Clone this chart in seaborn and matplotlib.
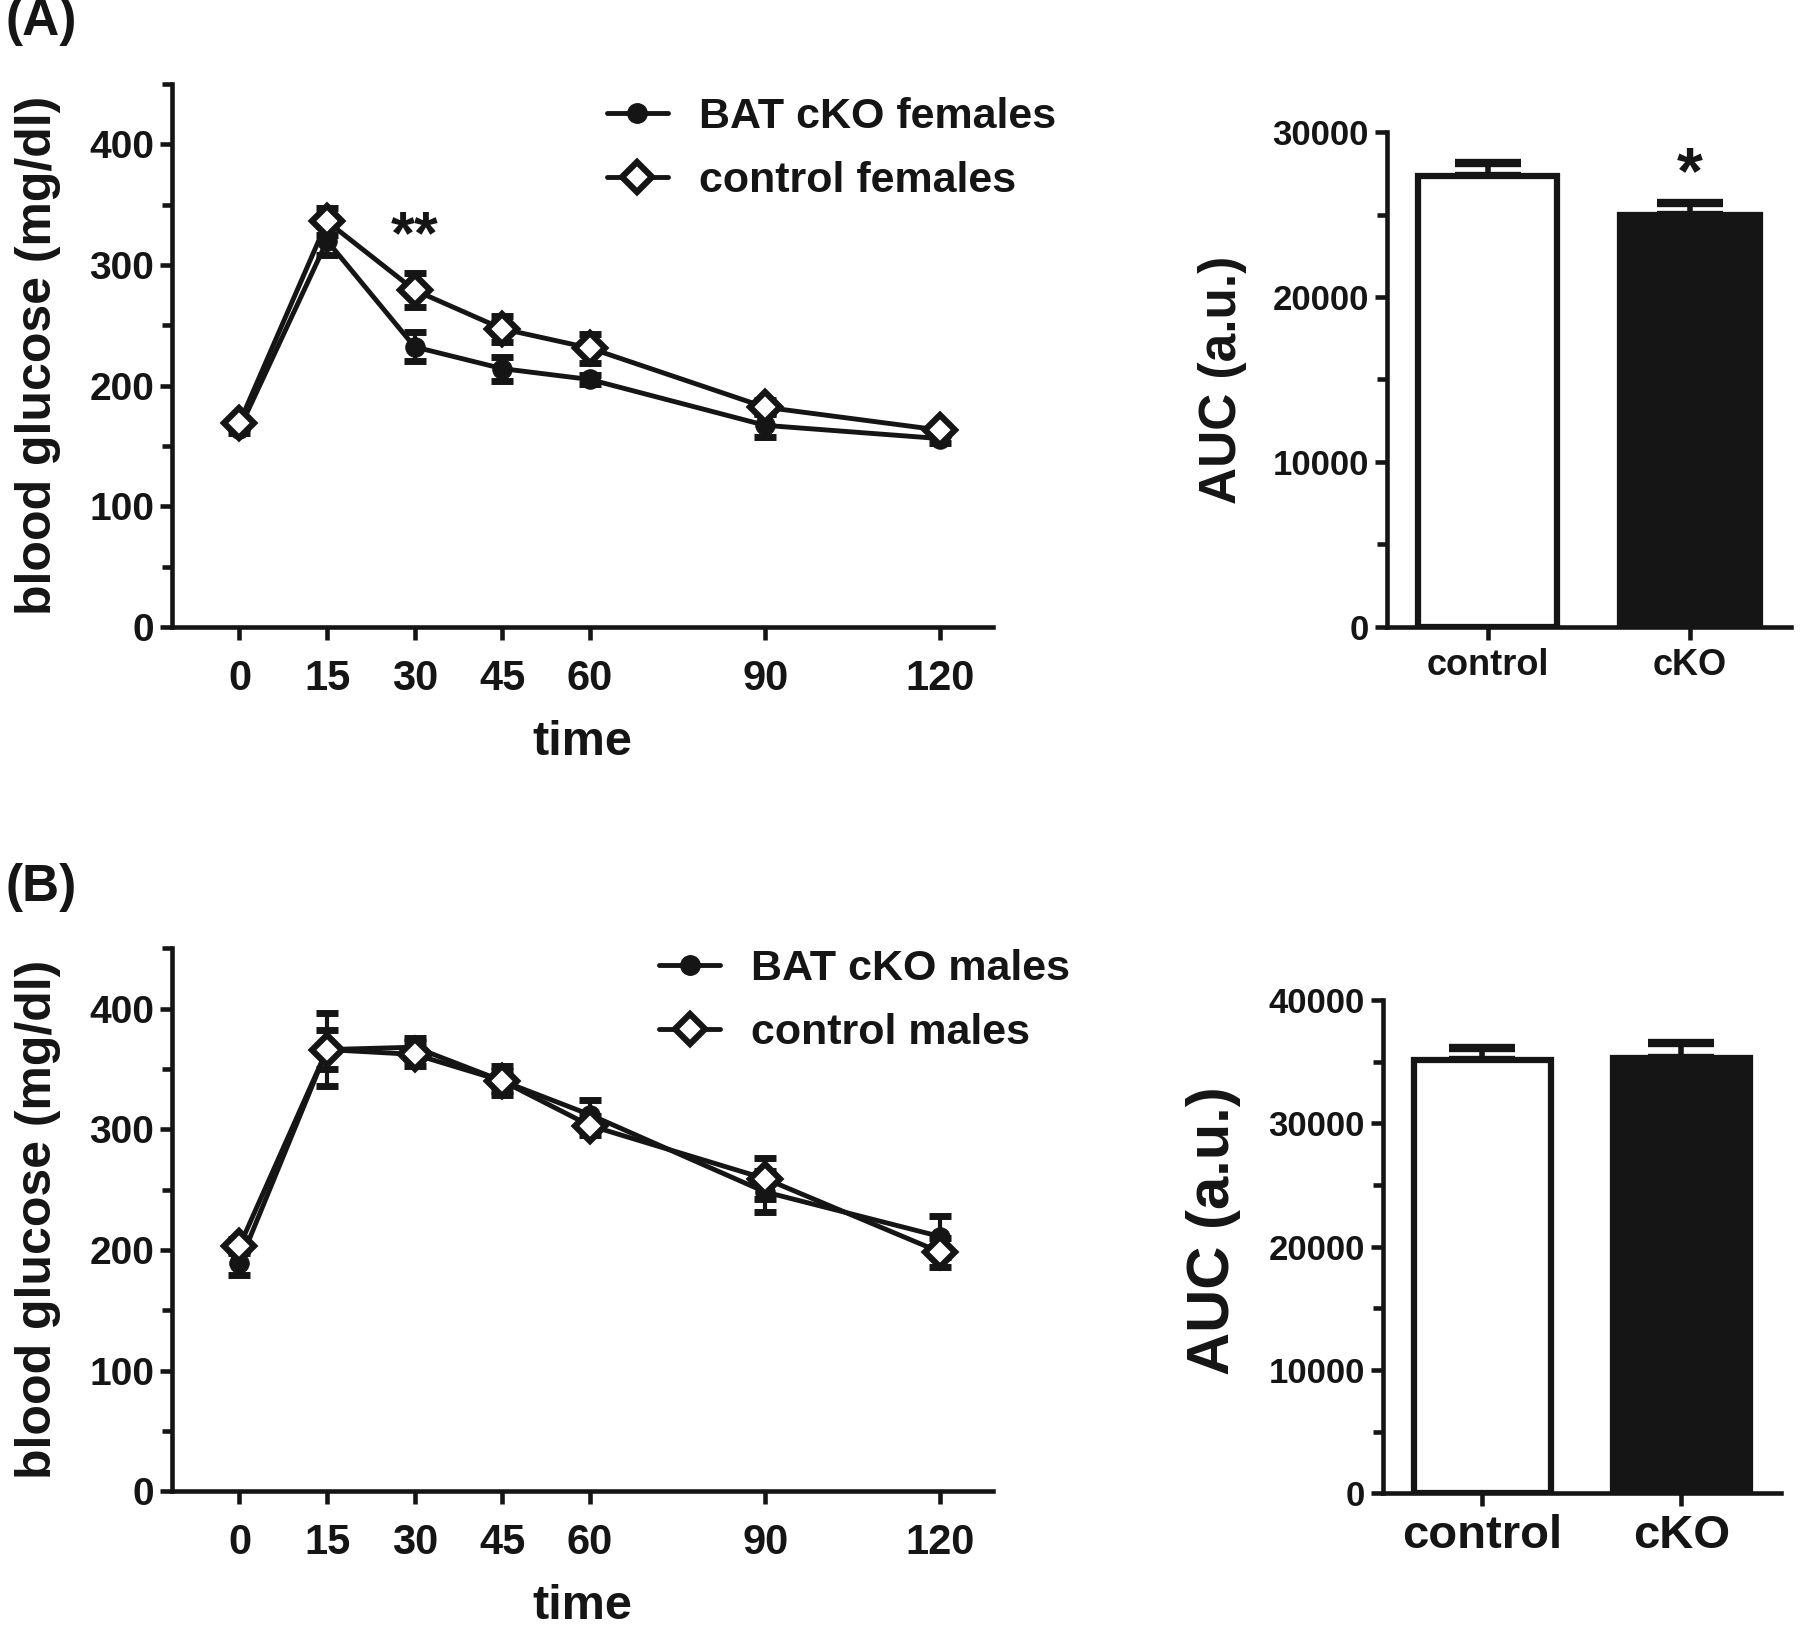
import matplotlib
matplotlib.use('Agg')
import matplotlib.pyplot as plt
import seaborn as sns
import numpy as np
from matplotlib.ticker import MultipleLocator
from matplotlib.lines import Line2D

# glucose tolerance data (mg/dl)
time = [0, 15, 30, 45, 60, 90, 120]

ko_f = [164, 320, 232, 214, 205, 167, 156]
ko_f_err = [3, 12, 12, 10, 4, 10, 4]
ctrl_f = [169, 336, 279, 247, 231, 182, 163]
ctrl_f_err = [4, 11, 14, 11, 12, 6, 4]

ko_m = [189, 366, 368, 340, 312, 248, 211]
ko_m_err = [10, 30, 8, 12, 12, 17, 17]
ctrl_m = [203, 366, 362, 340, 303, 259, 198]
ctrl_m_err = [6, 16, 10, 8, 8, 17, 12]

# area under curve
groups = ['control', 'cKO']
auc_f = [27350, 24950]
auc_f_err = [800, 780]
auc_m = [35120, 35270]
auc_m_err = [1020, 1270]

sns.set_theme(style='ticks')
plt.rcParams['font.family'] = ['Liberation Sans', 'DejaVu Sans']
plt.rcParams['font.weight'] = 'bold'
plt.rcParams['axes.labelweight'] = 'bold'

K = '#151515'
plt.rcParams['text.color'] = K
plt.rcParams['axes.labelcolor'] = K
plt.rcParams['xtick.labelcolor'] = K
plt.rcParams['ytick.labelcolor'] = K

fig = plt.figure(figsize=(18, 16.29), dpi=100)


def style_axes(ax, tick_fs):
    for s in ['top', 'right']:
        ax.spines[s].set_visible(False)
    for s in ['left', 'bottom']:
        ax.spines[s].set_linewidth(3.3)
        ax.spines[s].set_color(K)
    ax.tick_params(which='major', direction='out', length=9, width=3.3, color=K, labelsize=tick_fs, pad=4)
    ax.tick_params(which='minor', direction='out', length=7, width=3.3, color=K)
    for lab in ax.get_xticklabels() + ax.get_yticklabels():
        lab.set_fontweight('bold')


def gtt_panel(rect, ko, ko_err, ctrl, ctrl_err, labels, leg_anchor):
    ax = fig.add_axes(rect)
    ax.errorbar(time, ko, yerr=ko_err, fmt='none', ecolor=K, elinewidth=3, capsize=8, capthick=5, zorder=2)
    ax.errorbar(time, ctrl, yerr=ctrl_err, fmt='none', ecolor=K, elinewidth=3, capsize=8, capthick=5, zorder=2)
    sns.lineplot(x=time, y=ko, ax=ax, color=K, lw=3.5, marker='o', markersize=14,
                 markerfacecolor=K, markeredgecolor=K, zorder=3)
    sns.lineplot(x=time, y=ctrl, ax=ax, color=K, lw=3.5, marker='D', markersize=15,
                 markerfacecolor='white', markeredgecolor=K, markeredgewidth=4.5, zorder=4)
    ax.set_xlim(-11.5, 129)
    ax.set_ylim(0, 450)
    ax.set_xticks(time)
    ax.set_yticks([0, 100, 200, 300, 400])
    ax.yaxis.set_minor_locator(MultipleLocator(50))
    ax.set_xlabel('time', fontsize=35, fontweight='bold', labelpad=15)
    ax.set_ylabel('blood glucose (mg/dl)', fontsize=36, fontweight='bold', labelpad=20)
    style_axes(ax, 28)
    ax.tick_params(axis='x', labelsize=30, pad=14)
    handles = [
        Line2D([], [], color=K, lw=3.5, marker='o', markersize=14, markerfacecolor=K),
        Line2D([], [], color=K, lw=3.5, marker='D', markersize=15, markerfacecolor='white', markeredgewidth=4.5),
    ]
    ax.legend(handles, labels, loc='upper left', bbox_to_anchor=leg_anchor, frameon=False,
              prop={'size': 31, 'weight': 'bold'}, handlelength=1.42, handletextpad=0.72, labelspacing=0.55)
    return ax


def auc_panel(rect, vals, errs, ymax, ylabel_fs, xtick_fs, lpad, label_y):
    ax = fig.add_axes(rect)
    ax.errorbar([0, 1], vals, yerr=[[0, 0], errs], fmt='none', ecolor=K, elinewidth=4, capsize=24, capthick=6, zorder=1)
    sns.barplot(x=groups, y=vals, hue=groups, palette=['white', K], legend=False, ax=ax,
                width=0.69, edgecolor=K, linewidth=4.5, zorder=2)
    ax.set_xlim(-0.5, 1.5)
    ax.set_ylim(0, ymax)
    ax.yaxis.set_major_locator(MultipleLocator(10000))
    ax.yaxis.set_minor_locator(MultipleLocator(5000))
    ax.set_ylabel('AUC (a.u.)', fontsize=ylabel_fs, fontweight='bold', labelpad=lpad, y=label_y)
    ax.set_xlabel('')
    style_axes(ax, 25)
    ax.tick_params(axis='x', labelsize=xtick_fs, pad=6)
    return ax


axA = gtt_panel([0.0957, 0.6152, 0.456, 0.3333], ko_f, ko_f_err, ctrl_f, ctrl_f_err,
                ['BAT cKO females', 'control females'], (0.482, 1.047))
axA.text(30, 310, '**', ha='center', va='baseline', fontsize=44, fontweight='bold', color=K)

axB = gtt_panel([0.0957, 0.0846, 0.456, 0.3333], ko_m, ko_m_err, ctrl_m, ctrl_m_err,
                ['BAT cKO males', 'control males'], (0.546, 1.07))

bA = auc_panel([0.7704, 0.6152, 0.2245, 0.3037], auc_f, auc_f_err, 30000, 37, 26, 18, 0.5)
bA.text(1, 26300, '*', ha='center', va='baseline', fontsize=48, fontweight='bold', color=K)

bB = auc_panel([0.7683, 0.0832, 0.2211, 0.303], auc_m, auc_m_err, 40000, 43, 34, 20, 0.533)

fig.text(0.003, 0.987, '(A)', fontsize=37, fontweight='bold', va='center', ha='left', color=K)
fig.text(0.003, 0.455, '(B)', fontsize=37, fontweight='bold', va='center', ha='left', color=K)

fig.savefig('out.png', dpi=100, facecolor='white')
